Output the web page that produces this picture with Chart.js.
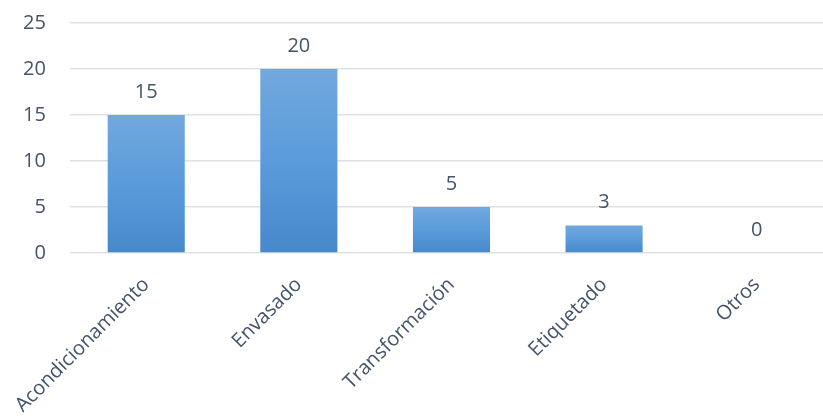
<!DOCTYPE html>
<html>
<head>
<meta charset="utf-8">
<script src="https://cdn.jsdelivr.net/npm/chart.js@4"></script>
<style>
  html, body { margin: 0; padding: 0; background: #fff; overflow: hidden; }
  #wrap { position: relative; top: -13px; width: 833px; height: 430px; }
</style>
</head>
<body>
<div id="wrap"><canvas id="barChart"></canvas></div>
<script>
const categories = ["Acondicionamiento", "Envasado", "Transformación", "Etiquetado", "Otros"];
const values = [15, 20, 5, 3, 0];
const yTicks = [0, 5, 10, 15, 20, 25];

const textColor = "#44546a";
const fontFamily = "'Open Sans', sans-serif";

// each bar gets its own light-to-dark blue gradient
function barGradient(context) {
  const chart = context.chart;
  const area = chart.chartArea;
  if (!area || context.type !== "data") return "#5b9bd5";
  const yScale = chart.scales.y;
  const top = yScale.getPixelForValue(context.raw);
  const base = yScale.getPixelForValue(0);
  if (base - top < 1) return "#5b9bd5";
  const g = chart.ctx.createLinearGradient(0, top, 0, base);
  g.addColorStop(0, "#72a8de");
  g.addColorStop(0.5, "#5a9bdb");
  g.addColorStop(1, "#4688ca");
  return g;
}

// value above every bar
const valueLabels = {
  id: "valueLabels",
  afterDatasetsDraw(chart) {
    const ctx = chart.ctx;
    const meta = chart.getDatasetMeta(0);
    ctx.save();
    ctx.font = "20px " + fontFamily;
    ctx.fillStyle = textColor;
    ctx.textAlign = "center";
    ctx.textBaseline = "alphabetic";
    meta.data.forEach((bar, i) => {
      ctx.fillText(String(values[i]), bar.x, bar.y - 17);
    });
    ctx.restore();
  },
};

const ctx = document.getElementById("barChart").getContext("2d");
new Chart(ctx, {
  type: "bar",
  data: {
    labels: categories,
    datasets: [
      {
        data: values,
        backgroundColor: barGradient,
        borderWidth: 0,
        barPercentage: 1,
        categoryPercentage: 0.505,
      },
    ],
  },
  options: {
    responsive: true,
    maintainAspectRatio: false,
    animation: false,
    layout: { padding: { top: 9, right: 0, left: 0, bottom: 0 } },
    plugins: {
      legend: { display: false },
      tooltip: { enabled: false },
    },
    scales: {
      x: {
        grid: { display: false },
        border: { display: false },
        ticks: {
          color: textColor,
          font: { family: fontFamily, size: 20 },
          minRotation: 45,
          maxRotation: 45,
          padding: 12,
          autoSkip: false,
        },
        afterFit(scale) {
          scale.height = 164;
        },
      },
      y: {
        min: 0,
        max: 25,
        afterBuildTicks(scale) {
          scale.ticks = yTicks.map((v) => ({ value: v }));
        },
        grid: { color: "#dde1e6", lineWidth: 1.5, drawTicks: false },
        border: { display: false },
        ticks: {
          color: textColor,
          font: { family: fontFamily, size: 20 },
          padding: 24,
        },
        afterFit(scale) {
          scale.width = 69;
        },
      },
    },
  },
  plugins: [valueLabels],
});
</script>
</body>
</html>
